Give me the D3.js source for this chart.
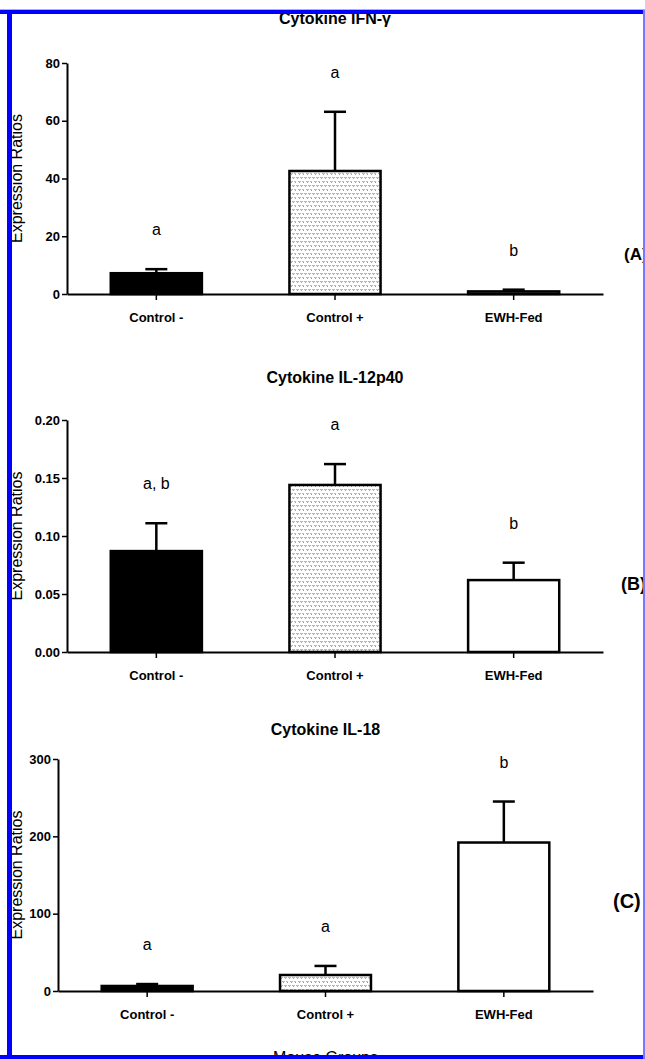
<!DOCTYPE html>
<html>
<head>
<meta charset="utf-8">
<script src="https://cdn.jsdelivr.net/npm/d3@7"></script>
<style>
  body { margin: 0; background: #fff; }
  svg { display: block; font-family: "Liberation Sans", Arial, sans-serif; }
</style>
</head>
<body>
<div id="chart"></div>
<script>
// data (mean and SEM per group)
var groups = ["Control -", "Control +", "EWH-Fed"];

var ifnMeans = [7.2, 42.6, 0.9];
var ifnSem = [1.4, 20.5, 0.6];
var ifnLetters = ["a", "a", "b"];
var ifnTicks = [0, 20, 40, 60, 80];

var il12Means = [0.087, 0.144, 0.062];
var il12Sem = [0.024, 0.018, 0.015];
var il12Letters = ["a, b", "a", "b"];
var il12Ticks = [0, 0.05, 0.10, 0.15, 0.20];

var il18Means = [6.5, 20.7, 192];
var il18Sem = [2.5, 11.7, 53];
var il18Letters = ["a", "a", "b"];
var il18Ticks = [0, 100, 200, 300];

var W = 645, H = 1059;

var svg = d3.select("#chart")
  .append("svg")
    .attr("width", W)
    .attr("height", H);

// dotted fill for the Control + bars
var defs = svg.append("defs");
var pat = defs.append("pattern")
    .attr("id", "dots")
    .attr("patternUnits", "userSpaceOnUse")
    .attr("width", 8)
    .attr("height", 8);
pat.append("rect").attr("width", 8).attr("height", 8).attr("fill", "#fff");
[[0.5, 1], [4.5, 1], [2.5, 5], [6.5, 5]].forEach(function(p) {
  pat.append("path")
    .attr("d", "M" + p[0] + "," + p[1] + " l1,1.6 l1,-1.6")
    .attr("fill", "none")
    .attr("stroke", "#777")
    .attr("stroke-width", 0.8);
});

var fills = ["#000", "url(#dots)", "#fff"];

var panels = [
  { title: "Cytokine IFN-\u03b3", means: ifnMeans, sem: ifnSem, letters: ifnLetters,
    ticks: ifnTicks, fmt: d3.format("d"),
    left: 67, right: 603, top: 63, bottom: 294, titleY: 24,
    tag: "(A)", tagX: 624, tagY: 260, tagSize: 17 },
  { title: "Cytokine IL-12p40", means: il12Means, sem: il12Sem, letters: il12Letters,
    ticks: il12Ticks, fmt: d3.format(".2f"),
    left: 67, right: 603, top: 420, bottom: 652, titleY: 383,
    tag: "(B)", tagX: 621, tagY: 590, tagSize: 18 },
  { title: "Cytokine IL-18", means: il18Means, sem: il18Sem, letters: il18Letters,
    ticks: il18Ticks, fmt: d3.format("d"),
    left: 58, right: 593, top: 759, bottom: 991, titleY: 735,
    tag: "(C)", tagX: 613, tagY: 908, tagSize: 20 }
];

panels.forEach(function(p, pi) {
  var g = svg.append("g");

  var x = d3.scaleBand()
    .domain(groups)
    .range([p.left, p.right])
    .paddingInner(0.49)
    .paddingOuter(0.245);

  var y = d3.scaleLinear()
    .domain([0, p.ticks[p.ticks.length - 1]])
    .range([p.bottom, p.top]);

  // title
  g.append("text")
    .attr("x", (p.left + p.right) / 2)
    .attr("y", p.titleY)
    .attr("text-anchor", "middle")
    .style("font-size", "16px")
    .style("font-weight", "bold")
    .text(p.title);

  // error bars (upper only)
  var eb = g.selectAll(".err")
    .data(groups)
    .enter()
    .append("g");
  eb.append("line")
    .attr("x1", function(d) { return x(d) + x.bandwidth() / 2; })
    .attr("x2", function(d) { return x(d) + x.bandwidth() / 2; })
    .attr("y1", function(d, i) { return y(p.means[i]); })
    .attr("y2", function(d, i) { return y(p.means[i] + p.sem[i]); })
    .attr("stroke", "#000")
    .attr("stroke-width", 2.5);
  eb.append("line")
    .attr("x1", function(d) { return x(d) + x.bandwidth() / 2 - 11; })
    .attr("x2", function(d) { return x(d) + x.bandwidth() / 2 + 11; })
    .attr("y1", function(d, i) { return y(p.means[i] + p.sem[i]); })
    .attr("y2", function(d, i) { return y(p.means[i] + p.sem[i]); })
    .attr("stroke", "#000")
    .attr("stroke-width", 2.5);

  // bars
  g.selectAll(".bar")
    .data(groups)
    .enter()
    .append("rect")
      .attr("x", function(d) { return x(d); })
      .attr("width", x.bandwidth())
      .attr("y", function(d, i) { return y(p.means[i]); })
      .attr("height", function(d, i) { return p.bottom - y(p.means[i]); })
      .attr("fill", function(d, i) { return fills[i]; })
      .attr("stroke", "#000")
      .attr("stroke-width", 2.5);

  // significance letters
  g.selectAll(".letter")
    .data(groups)
    .enter()
    .append("text")
      .attr("x", function(d) { return x(d) + x.bandwidth() / 2; })
      .attr("y", function(d, i) { return y(p.means[i] + p.sem[i]) - 34; })
      .attr("text-anchor", "middle")
      .style("font-size", "16px")
      .text(function(d, i) { return p.letters[i]; });

  // Y axis
  var ya = g.append("g")
    .attr("transform", "translate(" + p.left + ",0)")
    .call(d3.axisLeft(y).tickValues(p.ticks).tickFormat(p.fmt)
      .tickSize(5).tickSizeOuter(0).tickPadding(2));
  ya.select(".domain").attr("stroke-width", 2);
  ya.selectAll(".tick line").attr("stroke-width", 1.5);
  ya.selectAll(".tick text")
    .style("font-size", "13px")
    .style("font-weight", "bold")
    .style("font-family", "'Liberation Sans', Arial, sans-serif")
    .attr("fill", "#000");

  // X axis
  var xa = g.append("g")
    .attr("transform", "translate(0," + p.bottom + ")")
    .call(d3.axisBottom(x).tickSize(6).tickSizeOuter(0).tickPadding(13));
  xa.select(".domain").attr("stroke-width", 2);
  xa.selectAll(".tick line").attr("stroke-width", 1.5);
  xa.selectAll(".tick text")
    .style("font-size", "13px")
    .style("font-weight", "bold")
    .style("font-family", "'Liberation Sans', Arial, sans-serif")
    .attr("fill", "#000");

  // Y label
  g.append("text")
    .attr("transform", "translate(22," + (p.top + p.bottom) / 2 + ") rotate(-90)")
    .attr("text-anchor", "middle")
    .style("font-size", "16px")
    .text("Expression Ratios");

  // panel tag
  g.append("text")
    .attr("x", p.tagX)
    .attr("y", p.tagY)
    .style("font-size", p.tagSize + "px")
    .style("font-weight", "bold")
    .text(p.tag);

  if (pi === 2) {
    g.append("text")
      .attr("x", (p.left + p.right) / 2)
      .attr("y", 1063)
      .attr("text-anchor", "middle")
      .style("font-size", "16px")
      .text("Mouse Groups");
  }
});

// blue frame around the figure
svg.append("rect").attr("x", 0).attr("y", 9).attr("width", W).attr("height", 1).attr("fill", "#aaaaff");
svg.append("rect").attr("x", 0).attr("y", 10).attr("width", W).attr("height", 4).attr("fill", "#0000ff");
svg.append("rect").attr("x", 7).attr("y", 10).attr("width", 5).attr("height", H - 10).attr("fill", "#0000ff");
svg.append("rect").attr("x", 0).attr("y", 1055).attr("width", W).attr("height", 4).attr("fill", "#0000ff");
svg.append("rect").attr("x", 643).attr("y", 10).attr("width", 2).attr("height", H - 10).attr("fill", "#7777ff");
</script>
</body>
</html>
